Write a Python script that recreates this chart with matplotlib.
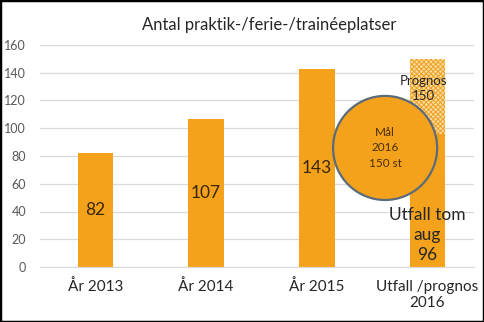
import matplotlib.pyplot as plt
from matplotlib.patches import Ellipse, Rectangle

plt.rcParams['font.family'] = ['Lato', 'DejaVu Sans']
plt.rcParams['hatch.linewidth'] = 0.7

# data
categories = ['År 2013', 'År 2014', 'År 2015', 'Utfall /prognos\n2016']
values = [82, 107, 143, 96]
prognos = 150
goal_text = 'Mål\n2016\n150 st'
yticks = [0, 20, 40, 60, 80, 100, 120, 140, 160]

orange = '#F4A21C'
W, H = 484, 322

fig = plt.figure(figsize=(W / 100, H / 100), dpi=100)
ax = fig.add_axes([40 / W, 55 / H, 434 / W, 222 / H])

x = list(range(len(categories)))
ax.bar(x, values, width=0.32, color=orange, zorder=2)
# forecast part of the last bar, from the outcome up to the forecast
ax.bar(x[-1], prognos - values[-1], bottom=values[-1], width=0.32,
       facecolor='#F8DDA2', edgecolor='#F0A020', hatch='xxxxxxx', linewidth=0, zorder=2)

for i, v in enumerate(values[:-1]):
    ax.text(x[i], v / 2, str(v), ha='center', va='center', fontsize=12.5, color='#3a2608', zorder=4)

ax.text(x[-1], values[-1] / 4 - 1, 'Utfall tom\naug\n' + str(values[-1]), ha='center', va='center',
        fontsize=12.5, color='#262626', linespacing=1.3, zorder=4)
ax.text(x[-1] - 0.04, 129, 'Prognos\n' + str(prognos), ha='center', va='center',
        fontsize=9.5, color='#262626', linespacing=1.3, zorder=4)

# goal bubble
goal = Ellipse((2.617, 85.8), 0.94, 75, facecolor=orange, edgecolor='#5C6B7A', linewidth=1.6, zorder=3)
ax.add_patch(goal)
ax.text(2.617, 85.8, goal_text, ha='center', va='center', fontsize=8.5, color='#4a2e05',
        linespacing=1.45, zorder=4)

ax.set_xlim(-0.5, 3.42)
ax.set_ylim(0, 160)
ax.set_yticks(yticks)
ax.set_xticks(x)
ax.set_xticklabels(categories, fontsize=11, color='#262626')
ax.tick_params(axis='y', length=0, pad=10, labelsize=9, labelcolor='#595959')
ax.tick_params(axis='x', length=0, pad=9)
ax.grid(axis='y', color='#D9D9D9', linewidth=0.9, zorder=0)
ax.set_axisbelow(True)
for s in ['top', 'right', 'left']:
    ax.spines[s].set_visible(False)
ax.spines['bottom'].set_color('#D9D9D9')

fig.text(269 / W, 1 - 25 / H, 'Antal praktik-/ferie-/trainéeplatser', ha='center', va='center',
         fontsize=12, color='#262626')

fig.patches.append(Rectangle((0, 0), 1, 1, transform=fig.transFigure, fill=False,
                             edgecolor='black', linewidth=2.5))

fig.savefig('out.png', dpi=100)
